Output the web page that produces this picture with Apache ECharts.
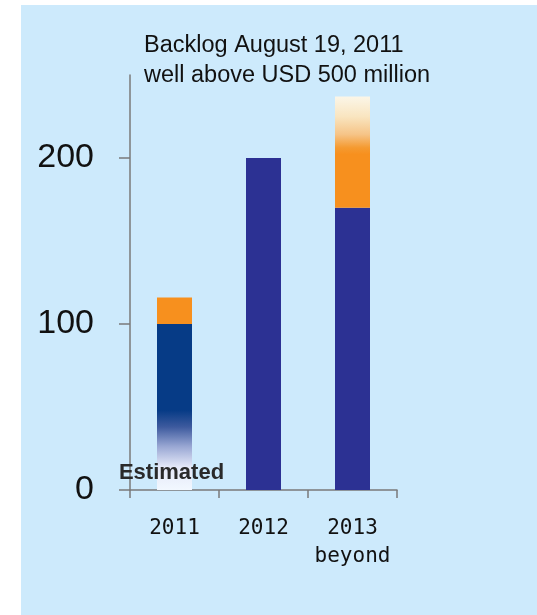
<!DOCTYPE html>
<html>
<head>
<meta charset="utf-8">
<script src="https://cdn.jsdelivr.net/npm/echarts@6/dist/echarts.min.js"></script>
<style>
html,body{margin:0;padding:0;background:#fff;}
#chart{width:537px;height:615px;}
</style>
</head>
<body>
<div id="chart"></div>
<script>
var categories = ['2011', '2012', '2013\nbeyond'];
var backlog = [100, 200, 170];
var additional = [16, 0, 67];
var yTicks = [0, 100, 200];
var titleLines = ['Backlog August 19, 2011', 'well above USD 500 million'];
var estimatedLabel = 'Estimated';

var navyFade = new echarts.graphic.LinearGradient(0, 0, 0, 1, [
  {offset: 0, color: '#063b86'},
  {offset: 0.52, color: '#063b86'},
  {offset: 0.62, color: '#3d5a9e'},
  {offset: 0.74, color: '#9aa8d4'},
  {offset: 0.86, color: '#e4e8f8'},
  {offset: 1, color: '#f2f8ff'}
]);
var orangeFade = new echarts.graphic.LinearGradient(0, 0, 0, 1, [
  {offset: 0, color: '#fbf6e8'},
  {offset: 0.18, color: '#f9e5c0'},
  {offset: 0.34, color: '#f6c487'},
  {offset: 0.46, color: '#f59a30'},
  {offset: 0.52, color: '#f7901e'},
  {offset: 1, color: '#f7901e'}
]);

var baseData = backlog.map(function (v, i) {
  if (i === 0) {
    return {
      value: v,
      itemStyle: {color: navyFade},
      label: {
        show: true,
        formatter: estimatedLabel,
        position: 'insideBottom',
        distance: 6,
        offset: [-3, 0],
        fontFamily: 'Liberation Sans, Arial, sans-serif',
        fontSize: 22,
        fontWeight: 'bold',
        color: '#2a2a2a'
      }
    };
  }
  return {value: v, itemStyle: {color: '#2c3193'}};
});
var topData = additional.map(function (v, i) {
  if (i === 2) return {value: v, itemStyle: {color: orangeFade}};
  return {value: v, itemStyle: {color: '#f7901e'}};
});

var chart = echarts.init(document.getElementById('chart'), null, {renderer: 'canvas'});
chart.setOption({
  backgroundColor: '#ffffff',
  animation: false,
  graphic: {
    elements: [{
      type: 'rect',
      z: -100,
      shape: {x: 21, y: 5, width: 520, height: 615},
      style: {fill: '#cdeafc'}
    }]
  },
  title: {
    text: titleLines.join('\n'),
    left: 144,
    top: 31,
    padding: 0,
    textStyle: {
      fontFamily: 'Liberation Sans, Arial, sans-serif',
      fontSize: 23.5,
      fontWeight: 'normal',
      lineHeight: 30,
      color: '#111'
    }
  },
  grid: {left: 130, right: 140, top: 75, bottom: 125, containLabel: false},
  xAxis: {
    type: 'category',
    data: categories,
    axisLine: {lineStyle: {color: '#7a7a7a', width: 1.5}},
    axisTick: {show: true, length: 8, lineStyle: {color: '#7a7a7a', width: 1.5}},
    axisLabel: {
      interval: 0,
      margin: 25,
      fontFamily: 'DejaVu Sans Mono, monospace',
      fontSize: 21,
      lineHeight: 28,
      color: '#111'
    }
  },
  yAxis: {
    type: 'value',
    min: 0,
    max: 250,
    interval: 100,
    splitLine: {show: false},
    axisLine: {show: true, lineStyle: {color: '#7a7a7a', width: 1.5}},
    axisTick: {show: true, length: 11, customValues: yTicks, lineStyle: {color: '#7a7a7a', width: 1.5}},
    axisLabel: {
      customValues: yTicks,
      margin: 36,
      fontFamily: 'Liberation Sans, Arial, sans-serif',
      fontSize: 34,
      color: '#111'
    }
  },
  series: [
    {type: 'bar', stack: 'b', barWidth: 35, data: baseData},
    {type: 'bar', stack: 'b', barWidth: 35, data: topData}
  ]
});
</script>
</body>
</html>
